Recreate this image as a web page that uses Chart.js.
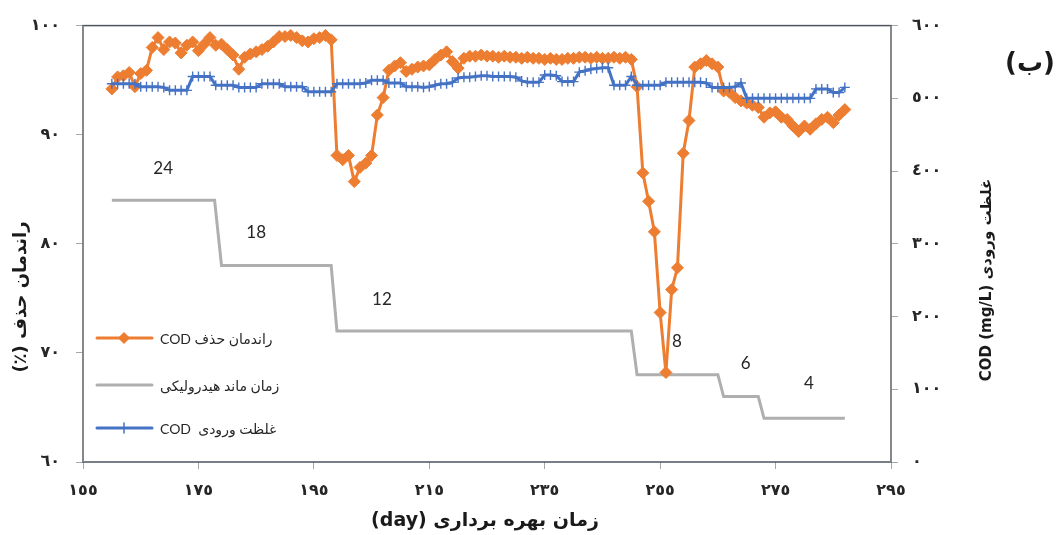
<!DOCTYPE html>
<html>
<head>
<meta charset="utf-8">
<script src="https://cdn.jsdelivr.net/npm/chart.js@4"></script>
<style>
  body { margin: 0; background: #fff; }
</style>
</head>
<body>
<canvas id="chart" width="1056" height="535"></canvas>
<script>
const days = [160, 161, 162, 163, 164, 165, 166, 167, 168, 169,
  170, 171, 172, 173, 174, 175, 176, 177, 178, 179,
  180, 181, 182, 183, 184, 185, 186, 187, 188, 189,
  190, 191, 192, 193, 194, 195, 196, 197, 198, 199,
  200, 201, 202, 203, 204, 205, 206, 207, 208, 209,
  210, 211, 212, 213, 214, 215, 216, 217, 218, 219,
  220, 221, 222, 223, 224, 225, 226, 227, 228, 229,
  230, 231, 232, 233, 234, 235, 236, 237, 238, 239,
  240, 241, 242, 243, 244, 245, 246, 247, 248, 249,
  250, 251, 252, 253, 254, 255, 256, 257, 258, 259,
  260, 261, 262, 263, 264, 265, 266, 267, 268, 269,
  270, 271, 272, 273, 274, 275, 276, 277, 278, 279,
  280, 281, 282, 283, 284, 285, 286, 287];

// راندمان حذف COD (%)
const codRemoval = [94.2, 95.3, 95.4, 95.7, 94.4, 95.6, 95.9, 98.0, 98.9, 97.8,
  98.5, 98.4, 97.5, 98.2, 98.5, 97.7, 98.3, 98.9, 98.2, 98.3,
  97.8, 97.3, 96.0, 97.1, 97.4, 97.6, 97.8, 98.1, 98.5, 99.0,
  99.0, 99.1, 98.9, 98.6, 98.5, 98.8, 98.9, 99.1, 98.7, 88.1,
  87.7, 88.1, 85.7, 87.0, 87.4, 88.1, 91.8, 93.4, 95.9, 96.3,
  96.6, 95.8, 96.0, 96.2, 96.3, 96.4, 96.9, 97.3, 97.6, 96.7,
  96.1, 97.0, 97.2, 97.2, 97.3, 97.2, 97.2, 97.1, 97.2, 97.1,
  97.1, 97.0, 97.1, 97.0, 97.0, 96.9, 97.0, 96.9, 96.9, 97.0,
  97.0, 97.1, 97.1, 97.0, 97.1, 97.0, 97.0, 97.1, 97.0, 97.1,
  96.9, 94.4, 86.5, 83.9, 81.1, 73.7, 68.2, 75.8, 77.8, 88.3,
  91.3, 96.2, 96.5, 96.8, 96.5, 96.2, 94.0, 93.9, 93.4, 93.1,
  92.9, 92.7, 92.5, 91.6, 92.0, 92.1, 91.6, 91.4, 90.8, 90.3,
  90.8, 90.5, 91.0, 91.4, 91.6, 91.1, 91.8, 92.3];

// غلظت ورودی COD (mg/L)
const codInlet = [520, 520, 520, 520, 520, 516, 516, 516, 516, 515,
  511, 511, 511, 511, 530, 530, 530, 530, 518, 518,
  518, 518, 515, 515, 515, 515, 520, 520, 520, 520,
  516, 516, 516, 516, 509, 509, 509, 509, 509, 520,
  520, 520, 520, 520, 521, 525, 525, 525, 521, 521,
  521, 516, 516, 516, 515, 516, 518, 520, 520, 522,
  528, 529, 529, 530, 531, 531, 530, 530, 530, 530,
  529, 524, 522, 522, 522, 532, 532, 531, 523, 523,
  523, 536, 538, 540, 541, 542, 542, 518, 518, 518,
  530, 518, 518, 518, 518, 518, 522, 522, 522, 522,
  522, 522, 522, 521, 515, 515, 515, 515, 516, 521,
  500, 500, 500, 500, 500, 500, 500, 500, 500, 500,
  500, 500, 513, 513, 513, 508, 508, 515];

// زمان ماند هیدرولیکی (h)
const hrtDays = [160, 177.8, 179, 198, 199, 250, 251, 265, 266, 272, 273, 287];
const hrtValues = [24, 24, 18, 18, 12, 12, 8, 8, 6, 6, 4, 4];
const hrtLabels = ["24", "18", "12", "8", "6", "4"];

const xTicks = [155, 175, 195, 215, 235, 255, 275, 295];
const leftTicks = [60, 70, 80, 90, 100];
const rightTicks = [0, 100, 200, 300, 400, 500, 600];

const legendNames = ["راندمان حذف COD", "زمان ماند هیدرولیکی", "غلظت ورودی  COD"];

const ORANGE = "#ED7D31", GRAY = "#AFAFAF", BLUE = "#4472C4";
const faDigits = "٠١٢٣٤٥٦٧٨٩";
const toFa = v => String(v).replace(/\d/g, d => faDigits[d]);
const ARFONT = "'DejaVu Sans', sans-serif";
const TXTFONT = "Lato, 'DejaVu Sans', sans-serif";

const decor = {
  id: "decor",
  afterDraw(chart) {
    const { ctx, chartArea: a, scales } = chart;
    ctx.save();
    // plot frame
    ctx.strokeStyle = "#4D5360";
    ctx.lineWidth = 1.5;
    ctx.strokeRect(a.left, a.top, a.right - a.left, a.bottom - a.top);
    ctx.strokeStyle = "#8C8C8C";
    ctx.beginPath();
    ctx.moveTo(a.left, a.top); ctx.lineTo(a.left, a.bottom);
    ctx.moveTo(a.right, a.top); ctx.lineTo(a.right, a.bottom);
    ctx.stroke();

    // HRT value labels, anchored in data units
    const anchors = [[168.9, 26.9], [185, 21], [206.8, 14.9], [257.9, 11], [269.8, 9], [280.8, 7.2]];
    ctx.fillStyle = "#262626";
    ctx.font = "17px " + TXTFONT;
    ctx.textAlign = "center";
    ctx.textBaseline = "middle";
    anchors.forEach((p, i) => {
      ctx.fillText(hrtLabels[i], scales.x.getPixelForValue(p[0]), scales.y2.getPixelForValue(p[1]));
    });

    // legend inside plot
    const colors = [ORANGE, GRAY, BLUE];
    const rows = [338, 385, 428];
    ctx.direction = "rtl";
    ctx.textAlign = "left";
    ctx.font = "14px " + TXTFONT;
    rows.forEach((y, i) => {
      ctx.strokeStyle = colors[i];
      ctx.lineWidth = 3;
      ctx.lineCap = "round";
      ctx.beginPath();
      ctx.moveTo(97, y); ctx.lineTo(152, y);
      ctx.stroke();
      if (i === 0) {
        ctx.fillStyle = ORANGE;
        ctx.beginPath();
        ctx.moveTo(124, y - 6); ctx.lineTo(130, y); ctx.lineTo(124, y + 6); ctx.lineTo(118, y);
        ctx.closePath(); ctx.fill();
      } else if (i === 2) {
        ctx.lineWidth = 1.5;
        ctx.beginPath();
        ctx.moveTo(124, y - 5); ctx.lineTo(124, y + 5);
        ctx.stroke();
      }
      ctx.fillStyle = "#262626";
      ctx.fillText(legendNames[i], 160, y + 1);
    });

    // axis titles
    ctx.fillStyle = "#1a1a1a";
    ctx.textAlign = "center";
    ctx.font = "bold 19px " + ARFONT;
    ctx.fillText("زمان بهره برداری (day)", 485, 521);

    ctx.save();
    ctx.font = "bold 18px " + ARFONT;
    ctx.translate(21, 297);
    ctx.rotate(-Math.PI / 2);
    ctx.fillText("راندمان حذف (٪)", 0, 0);
    ctx.restore();

    ctx.save();
    ctx.font = "bold 15px " + ARFONT;
    ctx.translate(987, 280);
    ctx.rotate(-Math.PI / 2);
    ctx.fillText("غلظت ورودی COD (mg/L)", 0, 0);
    ctx.restore();

    ctx.font = "bold 26px " + ARFONT;
    ctx.fillText("(ب)", 1030, 64);
    ctx.restore();
  }
};

const tickGrid = { drawOnChartArea: false, color: "#A6A6A6", tickLength: 7, lineWidth: 1 };
const tickFont = { family: ARFONT, size: 16, weight: "bold" };

new Chart(document.getElementById("chart"), {
  type: "line",
  data: {
    datasets: [
      {
        label: legendNames[2],
        data: days.map((d, i) => ({ x: d, y: codInlet[i] })),
        yAxisID: "y1",
        borderColor: BLUE,
        backgroundColor: BLUE,
        borderWidth: 3,
        pointStyle: "cross",
        pointRadius: 5,
        pointBorderWidth: 1.4,
        pointBorderColor: BLUE,
        order: 0
      },
      {
        label: legendNames[0],
        data: days.map((d, i) => ({ x: d, y: codRemoval[i] })),
        yAxisID: "y",
        borderColor: ORANGE,
        backgroundColor: ORANGE,
        borderWidth: 3,
        pointStyle: "rectRot",
        pointRadius: 6,
        pointBorderWidth: 1,
        order: 1
      },
      {
        label: legendNames[1],
        data: hrtDays.map((d, i) => ({ x: d, y: hrtValues[i] })),
        yAxisID: "y2",
        borderColor: GRAY,
        borderWidth: 3,
        pointRadius: 0,
        order: 2
      }
    ]
  },
  options: {
    responsive: false,
    animation: false,
    devicePixelRatio: 1,
    layout: { padding: { top: 23, left: 0, right: 0, bottom: 0 } },
    plugins: { legend: { display: false }, tooltip: { enabled: false } },
    elements: { line: { tension: 0 } },
    scales: {
      x: {
        type: "linear", min: 155, max: 295,
        afterBuildTicks: s => { s.ticks = xTicks.map(v => ({ value: v })); },
        afterFit: s => { s.height = 73; },
        ticks: { callback: v => toFa(v), font: tickFont, color: "#262626", padding: 12, maxRotation: 0 },
        grid: tickGrid,
        border: { display: false }
      },
      y: {
        position: "left", min: 60, max: 100,
        afterBuildTicks: s => { s.ticks = leftTicks.map(v => ({ value: v })); },
        afterFit: s => { s.width = 83; },
        ticks: { callback: v => toFa(v), font: tickFont, color: "#262626", padding: 16 },
        grid: tickGrid,
        border: { display: false }
      },
      y1: {
        position: "right", min: 0, max: 600,
        afterBuildTicks: s => { s.ticks = rightTicks.map(v => ({ value: v })); },
        afterFit: s => { s.width = 165; },
        ticks: { callback: v => toFa(v), font: tickFont, color: "#262626", padding: 14 },
        grid: tickGrid,
        border: { display: false }
      },
      y2: { display: false, min: 0, max: 40 }
    }
  },
  plugins: [decor]
});
</script>
</body>
</html>
